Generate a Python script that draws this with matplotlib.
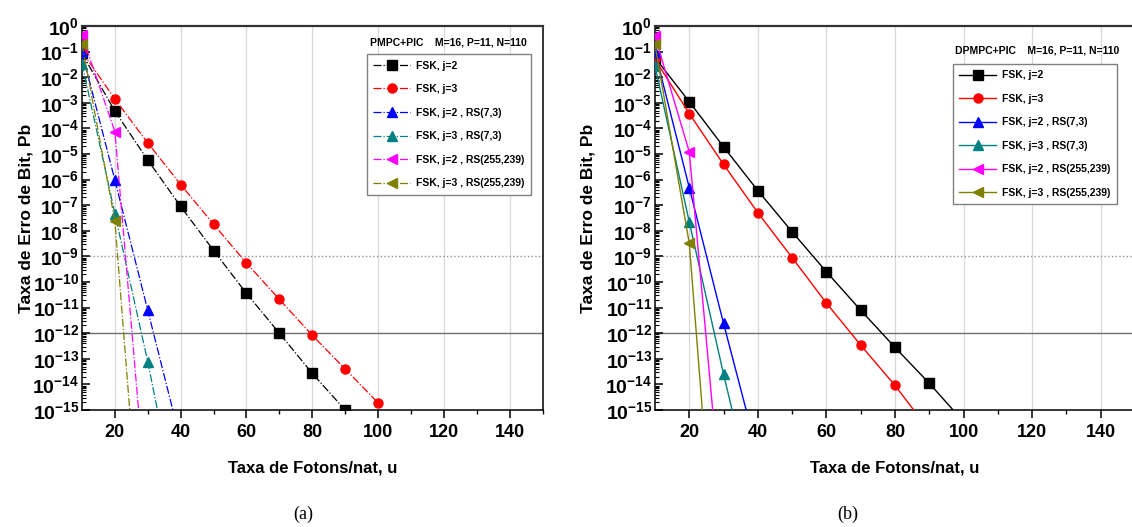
"""
Curvas de taxa de erro de bit (Pb) vs taxa de fotons/nat (u)
para PMPC+PIC (a) e DPMPC+PIC (b), FSK com e sem codigo RS.
"""
import matplotlib
matplotlib.use("Agg")
import matplotlib.pyplot as plt
from matplotlib.ticker import FixedLocator, NullFormatter

plt.rcParams["font.family"] = ["Liberation Sans", "DejaVu Sans"]
plt.rcParams["mathtext.fontset"] = "custom"
plt.rcParams["mathtext.rm"] = "Liberation Sans"
plt.rcParams["mathtext.bf"] = "Liberation Sans:bold"

# eixo x (fotons/nat)
U_FSK_A_J2 = [10, 20, 30, 40, 50, 60, 70, 80, 90]
U_FSK_A_J3 = [10, 20, 30, 40, 50, 60, 70, 80, 90, 100]
U_FSK_B_J2 = [10, 20, 30, 40, 50, 60, 70, 80, 90, 100]
U_FSK_B_J3 = [10, 20, 30, 40, 50, 60, 70, 80, 90]
U_RS73 = [10, 20, 30, 40]
U_RS255 = [10, 20, 30]

# (a) PMPC+PIC
A_FSK_J2 = [8.5e-2, 4.7e-4, 5.8e-6, 8.9e-8, 1.7e-9, 3.6e-11, 1.0e-12, 2.7e-14, 1.0e-15]
A_FSK_J3 = [1.0e-1, 1.4e-3, 2.7e-5, 6.4e-7, 1.8e-8, 5.5e-10, 2.1e-11, 8.3e-13, 4.0e-14, 1.9e-15]
A_RS73_J2 = [9.6e-2, 9.5e-7, 7.8e-12, 6.0e-17]
A_RS73_J3 = [3.4e-2, 4.7e-8, 7.6e-14, 3.0e-20]
A_RS255_J2 = [4.3e-1, 7.4e-5, 6.0e-20]
A_RS255_J3 = [2.0e-1, 2.4e-8, 1.0e-24]

# (b) DPMPC+PIC
B_FSK_J2 = [5.8e-2, 1.1e-3, 1.9e-5, 3.7e-7, 9.1e-9, 2.5e-10, 7.9e-12, 2.8e-13, 1.1e-14, 3.5e-16]
B_FSK_J3 = [5.0e-2, 3.8e-4, 3.9e-6, 5.1e-8, 8.9e-10, 1.5e-11, 3.4e-13, 9.1e-15, 1.6e-16]
B_RS73_J2 = [1.0e-1, 4.8e-7, 2.4e-12, 1.8e-17]
B_RS73_J3 = [2.7e-2, 2.2e-8, 2.5e-14, 6.0e-20]
B_RS255_J2 = [4.0e-1, 1.2e-5, 2.0e-20]
B_RS255_J3 = [1.9e-1, 3.2e-9, 2.5e-26]

LABELS = ["FSK, j=2", "FSK, j=3", "FSK, j=2 , RS(7,3)", "FSK, j=3 , RS(7,3)",
          "FSK, j=2 , RS(255,239)", "FSK, j=3 , RS(255,239)"]
COLORS = ["black", "red", "blue", "#008080", "magenta", "#808000"]
MARKERS = ["s", "o", "^", "^", "<", "<"]

X_TICKS = [20, 40, 60, 80, 100, 120, 140]
Y_EXP = list(range(0, -16, -1))

W, H = 1132, 527


def desenha(ax, xs, ys, ls, lw, titulo, leg_anchor, tit_xy):
    for x, y, lab, c, m in zip(xs, ys, LABELS, COLORS, MARKERS):
        ax.plot(x, y, linestyle=ls, color=c, marker=m, markersize=6.5,
                linewidth=lw, label=lab, zorder=3)

    ax.set_yscale("log")
    ax.set_xlim(10, 150)
    ax.set_ylim(1e-15, 1)

    # linhas de referencia
    ax.axhline(1e-9, color="#909090", linestyle=":", linewidth=1.0, zorder=1)
    ax.axhline(1e-12, color="#707070", linestyle="-", linewidth=1.0, zorder=1)
    for xv in X_TICKS:
        ax.axvline(xv, color="#d8d8d8", linewidth=0.9, zorder=0)

    ax.set_xticks(X_TICKS)
    ax.set_xticks([30, 50, 70, 90, 110, 130, 150], minor=True)
    ax.set_xticklabels([str(v) for v in X_TICKS], fontsize=13, fontweight="bold")
    ax.tick_params(axis="x", which="major", direction="out", length=6, width=1.1, pad=4)
    ax.tick_params(axis="x", which="minor", direction="out", length=3, width=1.0)

    ax.yaxis.set_major_locator(FixedLocator([10.0 ** e for e in Y_EXP]))
    ax.set_yticklabels([r"$\mathbf{10^{%d}}$" % e for e in Y_EXP], fontsize=14)
    minors = [m * 10.0 ** e for e in range(-15, 0) for m in range(2, 10)]
    ax.yaxis.set_minor_locator(FixedLocator(minors))
    ax.yaxis.set_minor_formatter(NullFormatter())
    ax.tick_params(axis="y", which="major", direction="in", length=6, width=1.1, pad=2)
    ax.tick_params(axis="y", which="minor", direction="in", length=3, width=0.8)

    for s in ax.spines.values():
        s.set_linewidth(1.1)
    ax.spines["top"].set_linewidth(1.6)
    ax.spines["top"].set_color("#333333")

    ax.set_xlabel("Taxa de Fotons/nat, u", fontsize=12, fontweight="bold")
    ax.set_ylabel("Taxa de Erro de Bit, Pb", fontsize=12.5, fontweight="bold")
    ax.xaxis.label.set_va("center")
    ax.yaxis.label.set_va("center")

    ax.text(tit_xy[0], tit_xy[1], titulo, transform=ax.transAxes,
            fontsize=7.5, fontweight="bold", ha="center", va="center")
    leg = ax.legend(loc="upper right", bbox_to_anchor=leg_anchor, borderaxespad=0,
                    prop={"size": 7.5, "weight": "bold"}, handlelength=3.5,
                    handletextpad=0.6, labelspacing=1.3, borderpad=0.6,
                    fancybox=False, framealpha=1, edgecolor="#808080")
    leg.get_frame().set_linewidth(1.0)


fig = plt.figure(figsize=(W / 100, H / 100), dpi=100)
ax_a = fig.add_axes([82 / W, (H - 410) / H, 460.5 / W, 384 / H])
ax_b = fig.add_axes([655 / W, (H - 410) / H, 480 / W, 384 / H])

desenha(ax_a,
        [U_FSK_A_J2, U_FSK_A_J3, U_RS73, U_RS73, U_RS255, U_RS255],
        [A_FSK_J2, A_FSK_J3, A_RS73_J2, A_RS73_J3, A_RS255_J2, A_RS255_J3],
        "-.", 0.9, "PMPC+PIC    M=16, P=11, N=110",
        ((530.7 - 82) / 460.5, (410 - 54.3) / 384),
        ((448.5 - 82) / 460.5, (410 - 42.3) / 384))
desenha(ax_b,
        [U_FSK_B_J2, U_FSK_B_J3, U_RS73, U_RS73, U_RS255, U_RS255],
        [B_FSK_J2, B_FSK_J3, B_RS73_J2, B_RS73_J3, B_RS255_J2, B_RS255_J3],
        "-", 1.0, "DPMPC+PIC    M=16, P=11, N=110",
        ((1116.7 - 655) / 480, (410 - 64) / 384),
        ((1036.9 - 655) / 480, (410 - 50.7) / 384))

ax_a.xaxis.set_label_coords(0.5, (410 - 468) / 384)
ax_a.yaxis.set_label_coords((26 - 82) / 460.5, 0.5)
ax_b.xaxis.set_label_coords(0.5, (410 - 468) / 384)
ax_b.yaxis.set_label_coords((588 - 655) / 480, 0.5)

fig.text(303.6 / W, 1 - 514 / H, "(a)", family="Liberation Serif", fontsize=13,
         ha="center", va="center")
fig.text(848 / W, 1 - 514 / H, "(b)", family="Liberation Serif", fontsize=13,
         ha="center", va="center")

fig.savefig("out.png", dpi=100)
plt.close(fig)
